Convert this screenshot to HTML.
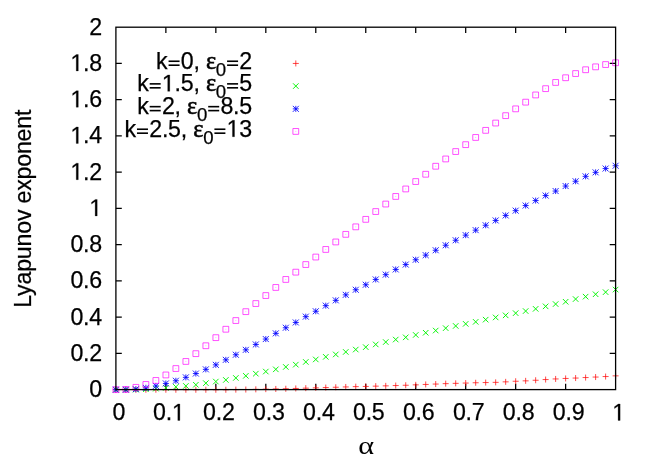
<!DOCTYPE html>
<html><head><meta charset="utf-8"><title>plot</title>
<style>
html,body{margin:0;padding:0;background:#fff;}
svg{display:block;will-change:transform;}
text{font-family:"Liberation Sans",sans-serif;font-size:23.2px;fill:#000;stroke:#000;stroke-width:0.25px;letter-spacing:-0.22px;}
.sym{font-family:"Liberation Serif",serif;font-size:24.2px;stroke-width:0.55px;}
.sub{font-size:18.6px;}
.eq{fill:none;stroke:none;}
</style></head><body>
<svg width="654" height="458" viewBox="0 0 654 458">
<rect width="654" height="458" fill="#fff"/>
<path fill="none" stroke="#000" stroke-width="1.25" d="M165.87 389.60v-5.9M165.87 27.20v5.9M115.90 353.36h5.9M615.60 353.36h-5.9M215.84 389.60v-5.9M215.84 27.20v5.9M115.90 317.12h5.9M615.60 317.12h-5.9M265.81 389.60v-5.9M265.81 27.20v5.9M115.90 280.88h5.9M615.60 280.88h-5.9M315.78 389.60v-5.9M315.78 27.20v5.9M115.90 244.64h5.9M615.60 244.64h-5.9M365.75 389.60v-5.9M365.75 27.20v5.9M115.90 208.40h5.9M615.60 208.40h-5.9M415.72 389.60v-5.9M415.72 27.20v5.9M115.90 172.16h5.9M615.60 172.16h-5.9M465.69 389.60v-5.9M465.69 27.20v5.9M115.90 135.92h5.9M615.60 135.92h-5.9M515.66 389.60v-5.9M515.66 27.20v5.9M115.90 99.68h5.9M615.60 99.68h-5.9M565.63 389.60v-5.9M565.63 27.20v5.9M115.90 63.44h5.9M615.60 63.44h-5.9"/>
<g fill="none" stroke-width="0.75" stroke-linecap="butt">
<path stroke="#ff0000" stroke-width="0.72" d="M112.90 389.75H118.90M115.90 386.75V392.75M122.89 389.75H128.89M125.89 386.75V392.75M132.89 389.75H138.89M135.89 386.75V392.75M142.88 389.75H148.88M145.88 386.75V392.75M152.88 389.75H158.88M155.88 386.75V392.75M162.87 389.75H168.87M165.87 386.75V392.75M172.86 389.75H178.86M175.86 386.75V392.75M182.86 389.75H188.86M185.86 386.75V392.75M192.85 389.75H198.85M195.85 386.75V392.75M202.85 389.75H208.85M205.85 386.75V392.75M212.84 389.75H218.84M215.84 386.75V392.75M222.83 389.75H228.83M225.83 386.75V392.75M232.83 389.65H238.83M235.83 386.65V392.65M242.82 389.55H248.82M245.82 386.55V392.55M252.82 389.35H258.82M255.82 386.35V392.35M262.81 389.15H268.81M265.81 386.15V392.15M272.80 388.95H278.80M275.80 385.95V391.95M282.80 388.75H288.80M285.80 385.75V391.75M292.79 388.45H298.79M295.79 385.45V391.45M302.79 388.15H308.79M305.79 385.15V391.15M312.78 387.85H318.78M315.78 384.85V390.85M322.77 387.55H328.77M325.77 384.55V390.55M332.77 387.25H338.77M335.77 384.25V390.25M342.76 386.95H348.76M345.76 383.95V389.95M352.76 386.65H358.76M355.76 383.65V389.65M362.75 386.45H368.75M365.75 383.45V389.45M372.74 386.15H378.74M375.74 383.15V389.15M382.74 385.85H388.74M385.74 382.85V388.85M392.73 385.55H398.73M395.73 382.55V388.55M402.73 385.25H408.73M405.73 382.25V388.25M412.72 384.85H418.72M415.72 381.85V387.85M422.71 384.45H428.71M425.71 381.45V387.45M432.71 384.05H438.71M435.71 381.05V387.05M442.70 383.65H448.70M445.70 380.65V386.65M452.70 383.35H458.70M455.70 380.35V386.35M462.69 383.05H468.69M465.69 380.05V386.05M472.68 382.75H478.68M475.68 379.75V385.75M482.68 382.55H488.68M485.68 379.55V385.55M492.67 382.35H498.67M495.67 379.35V385.35M502.67 381.85H508.67M505.67 378.85V384.85M512.66 381.25H518.66M515.66 378.25V384.25M522.65 380.85H528.65M525.65 377.85V383.85M532.65 380.25H538.65M535.65 377.25V383.25M542.64 379.55H548.64M545.64 376.55V382.55M552.64 378.95H558.64M555.64 375.95V381.95M562.63 378.45H568.63M565.63 375.45V381.45M572.62 378.05H578.62M575.62 375.05V381.05M582.62 377.55H588.62M585.62 374.55V380.55M592.61 377.05H598.61M595.61 374.05V380.05M602.61 376.55H608.61M605.61 373.55V379.55M612.60 375.85H618.60M615.60 372.85V378.85M292.80 63.45H298.80M295.80 60.45V66.45"/>
<path stroke="#00f400" stroke-width="0.95" d="M113.15 387.00L118.65 392.50M113.15 392.50L118.65 387.00M123.14 387.00L128.64 392.50M123.14 392.50L128.64 387.00M133.14 386.80L138.64 392.30M133.14 392.30L138.64 386.80M143.13 386.50L148.63 392.00M143.13 392.00L148.63 386.50M153.13 385.90L158.63 391.40M153.13 391.40L158.63 385.90M163.12 385.10L168.62 390.60M163.12 390.60L168.62 385.10M173.11 384.10L178.61 389.60M173.11 389.60L178.61 384.10M183.11 383.20L188.61 388.70M183.11 388.70L188.61 383.20M193.10 382.00L198.60 387.50M193.10 387.50L198.60 382.00M203.10 380.40L208.60 385.90M203.10 385.90L208.60 380.40M213.09 378.80L218.59 384.30M213.09 384.30L218.59 378.80M223.08 377.20L228.58 382.70M223.08 382.70L228.58 377.20M233.08 375.20L238.58 380.70M233.08 380.70L238.58 375.20M243.07 373.10L248.57 378.60M243.07 378.60L248.57 373.10M253.07 370.90L258.57 376.40M253.07 376.40L258.57 370.90M263.06 368.80L268.56 374.30M263.06 374.30L268.56 368.80M273.05 366.60L278.55 372.10M273.05 372.10L278.55 366.60M283.05 364.20L288.55 369.70M283.05 369.70L288.55 364.20M293.04 361.90L298.54 367.40M293.04 367.40L298.54 361.90M303.04 359.20L308.54 364.70M303.04 364.70L308.54 359.20M313.03 356.70L318.53 362.20M313.03 362.20L318.53 356.70M323.02 354.10L328.52 359.60M323.02 359.60L328.52 354.10M333.02 351.70L338.52 357.20M333.02 357.20L338.52 351.70M343.01 349.20L348.51 354.70M343.01 354.70L348.51 349.20M353.01 346.80L358.51 352.30M353.01 352.30L358.51 346.80M363.00 344.40L368.50 349.90M363.00 349.90L368.50 344.40M372.99 341.70L378.49 347.20M372.99 347.20L378.49 341.70M382.99 339.30L388.49 344.80M382.99 344.80L388.49 339.30M392.98 336.80L398.48 342.30M392.98 342.30L398.48 336.80M402.98 334.60L408.48 340.10M402.98 340.10L408.48 334.60M412.97 332.20L418.47 337.70M412.97 337.70L418.47 332.20M422.96 330.00L428.46 335.50M422.96 335.50L428.46 330.00M432.96 327.80L438.46 333.30M432.96 333.30L438.46 327.80M442.95 325.40L448.45 330.90M442.95 330.90L448.45 325.40M452.95 323.20L458.45 328.70M452.95 328.70L458.45 323.20M462.94 321.10L468.44 326.60M462.94 326.60L468.44 321.10M472.93 319.10L478.43 324.60M472.93 324.60L478.43 319.10M482.93 316.90L488.43 322.40M482.93 322.40L488.43 316.90M492.92 314.70L498.42 320.20M492.92 320.20L498.42 314.70M502.92 312.60L508.42 318.10M502.92 318.10L508.42 312.60M512.91 310.40L518.41 315.90M512.91 315.90L518.41 310.40M522.90 308.30L528.40 313.80M522.90 313.80L528.40 308.30M532.90 306.10L538.40 311.60M532.90 311.60L538.40 306.10M542.89 303.60L548.39 309.10M542.89 309.10L548.39 303.60M552.89 301.30L558.39 306.80M552.89 306.80L558.39 301.30M562.88 299.00L568.38 304.50M562.88 304.50L568.38 299.00M572.87 296.30L578.37 301.80M572.87 301.80L578.37 296.30M582.87 293.90L588.37 299.40M582.87 299.40L588.37 293.90M592.86 291.50L598.36 297.00M592.86 297.00L598.36 291.50M602.86 289.40L608.36 294.90M602.86 294.90L608.36 289.40M612.85 286.80L618.35 292.30M612.85 292.30L618.35 286.80M293.05 83.32L298.55 88.82M293.05 88.82L298.55 83.32"/>
<path stroke="#0000ff" stroke-width="0.85" d="M112.90 389.65H118.90M115.90 386.65V392.65M112.90 386.65L118.90 392.65M112.90 392.65L118.90 386.65M122.89 389.55H128.89M125.89 386.55V392.55M122.89 386.55L128.89 392.55M122.89 392.55L128.89 386.55M132.89 389.15H138.89M135.89 386.15V392.15M132.89 386.15L138.89 392.15M132.89 392.15L138.89 386.15M142.88 387.95H148.88M145.88 384.95V390.95M142.88 384.95L148.88 390.95M142.88 390.95L148.88 384.95M152.88 385.95H158.88M155.88 382.95V388.95M152.88 382.95L158.88 388.95M152.88 388.95L158.88 382.95M162.87 383.45H168.87M165.87 380.45V386.45M162.87 380.45L168.87 386.45M162.87 386.45L168.87 380.45M172.86 380.75H178.86M175.86 377.75V383.75M172.86 377.75L178.86 383.75M172.86 383.75L178.86 377.75M182.86 377.35H188.86M185.86 374.35V380.35M182.86 374.35L188.86 380.35M182.86 380.35L188.86 374.35M192.85 373.55H198.85M195.85 370.55V376.55M192.85 370.55L198.85 376.55M192.85 376.55L198.85 370.55M202.85 369.35H208.85M205.85 366.35V372.35M202.85 366.35L208.85 372.35M202.85 372.35L208.85 366.35M212.84 364.85H218.84M215.84 361.85V367.85M212.84 361.85L218.84 367.85M212.84 367.85L218.84 361.85M222.83 359.85H228.83M225.83 356.85V362.85M222.83 356.85L228.83 362.85M222.83 362.85L228.83 356.85M232.83 354.75H238.83M235.83 351.75V357.75M232.83 351.75L238.83 357.75M232.83 357.75L238.83 351.75M242.82 349.85H248.82M245.82 346.85V352.85M242.82 346.85L248.82 352.85M242.82 352.85L248.82 346.85M252.82 344.45H258.82M255.82 341.45V347.45M252.82 341.45L258.82 347.45M252.82 347.45L258.82 341.45M262.81 339.05H268.81M265.81 336.05V342.05M262.81 336.05L268.81 342.05M262.81 342.05L268.81 336.05M272.80 333.35H278.80M275.80 330.35V336.35M272.80 330.35L278.80 336.35M272.80 336.35L278.80 330.35M282.80 327.75H288.80M285.80 324.75V330.75M282.80 324.75L288.80 330.75M282.80 330.75L288.80 324.75M292.79 322.45H298.79M295.79 319.45V325.45M292.79 319.45L298.79 325.45M292.79 325.45L298.79 319.45M302.79 316.65H308.79M305.79 313.65V319.65M302.79 313.65L308.79 319.65M302.79 319.65L308.79 313.65M312.78 311.25H318.78M315.78 308.25V314.25M312.78 308.25L318.78 314.25M312.78 314.25L318.78 308.25M322.77 305.65H328.77M325.77 302.65V308.65M322.77 302.65L328.77 308.65M322.77 308.65L328.77 302.65M332.77 300.35H338.77M335.77 297.35V303.35M332.77 297.35L338.77 303.35M332.77 303.35L338.77 297.35M342.76 294.85H348.76M345.76 291.85V297.85M342.76 291.85L348.76 297.85M342.76 297.85L348.76 291.85M352.76 289.75H358.76M355.76 286.75V292.75M352.76 286.75L358.76 292.75M352.76 292.75L358.76 286.75M362.75 284.75H368.75M365.75 281.75V287.75M362.75 281.75L368.75 287.75M362.75 287.75L368.75 281.75M372.74 279.45H378.74M375.74 276.45V282.45M372.74 276.45L378.74 282.45M372.74 282.45L378.74 276.45M382.74 274.65H388.74M385.74 271.65V277.65M382.74 271.65L388.74 277.65M382.74 277.65L388.74 271.65M392.73 269.45H398.73M395.73 266.45V272.45M392.73 266.45L398.73 272.45M392.73 272.45L398.73 266.45M402.73 264.55H408.73M405.73 261.55V267.55M402.73 261.55L408.73 267.55M402.73 267.55L408.73 261.55M412.72 259.75H418.72M415.72 256.75V262.75M412.72 256.75L418.72 262.75M412.72 262.75L418.72 256.75M422.71 255.15H428.71M425.71 252.15V258.15M422.71 252.15L428.71 258.15M422.71 258.15L428.71 252.15M432.71 250.25H438.71M435.71 247.25V253.25M432.71 247.25L438.71 253.25M432.71 253.25L438.71 247.25M442.70 245.25H448.70M445.70 242.25V248.25M442.70 242.25L448.70 248.25M442.70 248.25L448.70 242.25M452.70 240.25H458.70M455.70 237.25V243.25M452.70 237.25L458.70 243.25M452.70 243.25L458.70 237.25M462.69 235.15H468.69M465.69 232.15V238.15M462.69 232.15L468.69 238.15M462.69 238.15L468.69 232.15M472.68 230.15H478.68M475.68 227.15V233.15M472.68 227.15L478.68 233.15M472.68 233.15L478.68 227.15M482.68 225.25H488.68M485.68 222.25V228.25M482.68 222.25L488.68 228.25M482.68 228.25L488.68 222.25M492.67 220.45H498.67M495.67 217.45V223.45M492.67 217.45L498.67 223.45M492.67 223.45L498.67 217.45M502.67 215.45H508.67M505.67 212.45V218.45M502.67 212.45L508.67 218.45M502.67 218.45L508.67 212.45M512.66 210.65H518.66M515.66 207.65V213.65M512.66 207.65L518.66 213.65M512.66 213.65L518.66 207.65M522.65 205.55H528.65M525.65 202.55V208.55M522.65 202.55L528.65 208.55M522.65 208.55L528.65 202.55M532.65 200.55H538.65M535.65 197.55V203.55M532.65 197.55L538.65 203.55M532.65 203.55L538.65 197.55M542.64 195.55H548.64M545.64 192.55V198.55M542.64 192.55L548.64 198.55M542.64 198.55L548.64 192.55M552.64 191.05H558.64M555.64 188.05V194.05M552.64 188.05L558.64 194.05M552.64 194.05L558.64 188.05M562.63 186.05H568.63M565.63 183.05V189.05M562.63 183.05L568.63 189.05M562.63 189.05L568.63 183.05M572.62 181.25H578.62M575.62 178.25V184.25M572.62 178.25L578.62 184.25M572.62 184.25L578.62 178.25M582.62 176.35H588.62M585.62 173.35V179.35M582.62 173.35L588.62 179.35M582.62 179.35L588.62 173.35M592.61 172.35H598.61M595.61 169.35V175.35M592.61 169.35L598.61 175.35M592.61 175.35L598.61 169.35M602.61 168.55H608.61M605.61 165.55V171.55M602.61 165.55L608.61 171.55M602.61 171.55L608.61 165.55M612.60 165.75H618.60M615.60 162.75V168.75M612.60 162.75L618.60 168.75M612.60 168.75L618.60 162.75M292.80 108.86H298.80M295.80 105.86V111.86M292.80 105.86L298.80 111.86M292.80 111.86L298.80 105.86"/>
<path stroke="#ff00ff" stroke-width="0.68" d="M113.00 386.75H118.80V392.55H113.00ZM122.99 386.55H128.79V392.35H122.99ZM132.99 384.45H138.79V390.25H132.99ZM142.98 381.55H148.78V387.35H142.98ZM152.98 377.55H158.78V383.35H152.98ZM162.97 372.05H168.77V377.85H162.97ZM172.96 365.65H178.76V371.45H172.96ZM182.96 358.55H188.76V364.35H182.96ZM192.95 350.75H198.75V356.55H192.95ZM202.95 342.85H208.75V348.65H202.95ZM212.94 334.75H218.74V340.55H212.94ZM222.93 326.35H228.73V332.15H222.93ZM232.93 317.65H238.73V323.45H232.93ZM242.92 308.75H248.72V314.55H242.92ZM252.92 300.65H258.72V306.45H252.92ZM262.91 292.65H268.71V298.45H262.91ZM272.90 284.55H278.70V290.35H272.90ZM282.90 276.55H288.70V282.35H282.90ZM292.89 269.25H298.69V275.05H292.89ZM302.89 261.65H308.69V267.45H302.89ZM312.88 254.15H318.68V259.95H312.88ZM322.87 246.55H328.67V252.35H322.87ZM332.87 239.05H338.67V244.85H332.87ZM342.86 231.45H348.66V237.25H342.86ZM352.86 223.95H358.66V229.75H352.86ZM362.85 216.45H368.65V222.25H362.85ZM372.84 208.65H378.64V214.45H372.84ZM382.84 201.15H388.64V206.95H382.84ZM392.83 193.55H398.63V199.35H392.83ZM402.83 186.05H408.63V191.85H402.83ZM412.82 178.65H418.62V184.45H412.82ZM422.81 171.35H428.61V177.15H422.81ZM432.81 163.35H438.61V169.15H432.81ZM442.80 156.05H448.60V161.85H442.80ZM452.80 148.65H458.60V154.45H452.80ZM462.79 141.75H468.59V147.55H462.79ZM472.78 134.55H478.58V140.35H472.78ZM482.78 127.45H488.58V133.25H482.78ZM492.77 120.15H498.57V125.95H492.77ZM502.77 112.75H508.57V118.55H502.77ZM512.76 105.95H518.56V111.75H512.76ZM522.75 99.25H528.55V105.05H522.75ZM532.75 92.05H538.55V97.85H532.75ZM542.74 85.75H548.54V91.55H542.74ZM552.74 79.55H558.54V85.35H552.74ZM562.73 74.85H568.53V80.65H562.73ZM572.72 70.65H578.52V76.45H572.72ZM582.72 66.85H588.52V72.65H582.72ZM592.71 63.95H598.51V69.75H592.71ZM602.71 61.65H608.51V67.45H602.71ZM612.70 59.85H618.50V65.65H612.70ZM292.90 128.53H298.70V134.33H292.90Z"/>
<path stroke="#ff00ff" stroke-opacity="0.4" d="M115.40 389.65h1M125.39 389.45h1M135.39 387.35h1M145.38 384.45h1M155.38 380.45h1M165.37 374.95h1M175.36 368.55h1M185.36 361.45h1M195.35 353.65h1M205.35 345.75h1M215.34 337.65h1M225.33 329.25h1M235.33 320.55h1M245.32 311.65h1M255.32 303.55h1M265.31 295.55h1M275.30 287.45h1M285.30 279.45h1M295.29 272.15h1M305.29 264.55h1M315.28 257.05h1M325.27 249.45h1M335.27 241.95h1M345.26 234.35h1M355.26 226.85h1M365.25 219.35h1M375.24 211.55h1M385.24 204.05h1M395.23 196.45h1M405.23 188.95h1M415.22 181.55h1M425.21 174.25h1M435.21 166.25h1M445.20 158.95h1M455.20 151.55h1M465.19 144.65h1M475.18 137.45h1M485.18 130.35h1M495.17 123.05h1M505.17 115.65h1M515.16 108.85h1M525.15 102.15h1M535.15 94.95h1M545.14 88.65h1M555.14 82.45h1M565.13 77.75h1M575.12 73.55h1M585.12 69.75h1M595.11 66.85h1M605.11 64.55h1M615.10 62.75h1M295.30 131.43h1"/>
</g>
<rect fill="none" stroke="#000" stroke-width="1.3" x="115.90" y="27.20" width="499.70" height="362.40"/>
<text x="102.00" y="397.10" text-anchor="end">0</text><text x="102.00" y="360.86" text-anchor="end">0.2</text><text x="102.00" y="324.62" text-anchor="end">0.4</text><text x="102.00" y="288.38" text-anchor="end">0.6</text><text x="102.00" y="252.14" text-anchor="end">0.8</text><text x="102.00" y="215.90" text-anchor="end"><tspan class="eq">1</tspan></text><text x="102.00" y="179.66" text-anchor="end"><tspan class="eq">1</tspan>.2</text><text x="102.00" y="143.42" text-anchor="end"><tspan class="eq">1</tspan>.4</text><text x="102.00" y="107.18" text-anchor="end"><tspan class="eq">1</tspan>.6</text><text x="102.00" y="70.94" text-anchor="end"><tspan class="eq">1</tspan>.8</text><text x="102.00" y="34.70" text-anchor="end">2</text>
<text x="118.90" y="420.40" text-anchor="middle">0</text><text x="168.87" y="420.40" text-anchor="middle">0.<tspan class="eq">1</tspan></text><text x="218.84" y="420.40" text-anchor="middle">0.2</text><text x="268.81" y="420.40" text-anchor="middle">0.3</text><text x="318.78" y="420.40" text-anchor="middle">0.4</text><text x="368.75" y="420.40" text-anchor="middle">0.5</text><text x="418.72" y="420.40" text-anchor="middle">0.6</text><text x="468.69" y="420.40" text-anchor="middle">0.7</text><text x="518.66" y="420.40" text-anchor="middle">0.8</text><text x="568.63" y="420.40" text-anchor="middle">0.9</text><text x="618.60" y="420.40" text-anchor="middle"><tspan class="eq">1</tspan></text>
<text x="252.00" y="68.75" text-anchor="end">k<tspan class="eq">=</tspan>0, <tspan class="sym">ε</tspan><tspan class="sub" dy="6.8">0</tspan><tspan dy="-6.8"><tspan class="eq">=</tspan></tspan>2</text><text x="252.00" y="91.37" text-anchor="end">k<tspan class="eq">=</tspan><tspan class="eq">1</tspan>.5, <tspan class="sym">ε</tspan><tspan class="sub" dy="6.8">0</tspan><tspan dy="-6.8"><tspan class="eq">=</tspan></tspan>5</text><text x="252.00" y="114.16" text-anchor="end">k<tspan class="eq">=</tspan>2, <tspan class="sym">ε</tspan><tspan class="sub" dy="6.8">0</tspan><tspan dy="-6.8"><tspan class="eq">=</tspan></tspan>8.5</text><text x="252.00" y="136.73" text-anchor="end">k<tspan class="eq">=</tspan>2.5, <tspan class="sym">ε</tspan><tspan class="sub" dy="6.8">0</tspan><tspan dy="-6.8"><tspan class="eq">=</tspan></tspan><tspan class="eq">1</tspan>3</text>
<g fill="#000" stroke="#000" stroke-width="0.25"><polygon points="95.15,215.90 95.15,201.47 91.54,204.12 91.54,202.13 95.32,199.46 97.20,199.46 97.20,215.90"/><polygon points="76.24,179.66 76.24,165.23 72.64,167.88 72.64,165.89 76.41,163.22 78.29,163.22 78.29,179.66"/><polygon points="76.24,143.42 76.24,128.99 72.64,131.64 72.64,129.65 76.41,126.98 78.29,126.98 78.29,143.42"/><polygon points="76.24,107.18 76.24,92.75 72.64,95.40 72.64,93.41 76.41,90.74 78.29,90.74 78.29,107.18"/><polygon points="76.24,70.94 76.24,56.51 72.64,59.16 72.64,57.17 76.41,54.50 78.29,54.50 78.29,70.94"/><polygon points="177.81,420.40 177.81,405.97 174.21,408.62 174.21,406.63 177.98,403.96 179.86,403.96 179.86,420.40"/><polygon points="618.09,420.40 618.09,405.97 614.49,408.62 614.49,406.63 618.26,403.96 620.14,403.96 620.14,420.40"/><polygon points="167.72,91.37 167.72,76.94 164.12,79.59 164.12,77.60 167.89,74.93 169.78,74.93 169.78,91.37"/><polygon points="232.46,136.73 232.46,122.30 228.86,124.95 228.86,122.96 232.63,120.29 234.51,120.29 234.51,136.73"/></g><g fill="#000"><rect x="168.57" y="60.45" width="11.00" height="1.6"/><rect x="168.57" y="64.40" width="11.00" height="1.6"/><rect x="227.08" y="60.45" width="11.00" height="1.6"/><rect x="227.08" y="64.40" width="11.00" height="1.6"/><rect x="149.66" y="83.07" width="11.00" height="1.6"/><rect x="149.66" y="87.02" width="11.00" height="1.6"/><rect x="227.08" y="83.07" width="11.00" height="1.6"/><rect x="227.08" y="87.02" width="11.00" height="1.6"/><rect x="149.68" y="105.86" width="11.00" height="1.6"/><rect x="149.68" y="109.81" width="11.00" height="1.6"/><rect x="208.19" y="105.86" width="11.00" height="1.6"/><rect x="208.19" y="109.81" width="11.00" height="1.6"/><rect x="136.97" y="128.43" width="11.00" height="1.6"/><rect x="136.97" y="132.38" width="11.00" height="1.6"/><rect x="214.40" y="128.43" width="11.00" height="1.6"/><rect x="214.40" y="132.38" width="11.00" height="1.6"/></g>
<text class="sym" transform="translate(366.2,454.3) scale(1.25,1.0)" text-anchor="middle" style="stroke:none;letter-spacing:0">α</text>
<text transform="translate(30.6,208.75) rotate(-90)" text-anchor="middle" style="letter-spacing:-0.215px">Lyapunov exponent</text>
</svg>
</body></html>
